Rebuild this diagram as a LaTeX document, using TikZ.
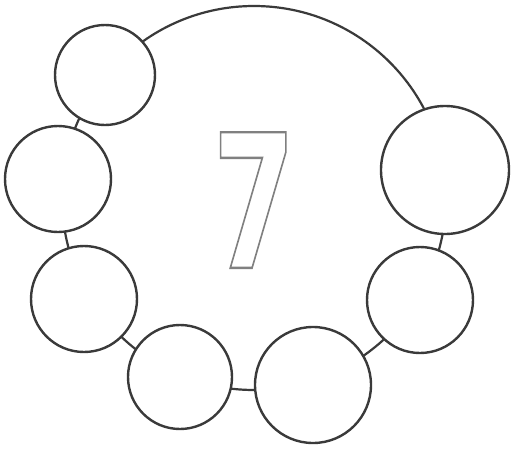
\documentclass[tikz,border=0pt]{standalone}
\usepackage{fontspec}
\newfontfamily\digitfont{DejaVu Sans}[BoldFont={DejaVu Sans Bold}]
\definecolor{inkline}{HTML}{3A3A3A}
\newcommand{\outlinedtext}[1]{\special{pdf:literal direct 1 Tr 2.4 w 0.5 G}#1\special{pdf:literal direct 0 Tr}}
\tikzset{
  bead/.style={circle, draw=inkline, line width=2.4pt, fill=white, inner sep=0pt, outer sep=0pt},
  ringline/.style={circle, draw=inkline, line width=2.2pt, inner sep=0pt, outer sep=0pt, minimum size=384pt},
  digit/.style={inner sep=0pt, font=\digitfont\bfseries\fontsize{186}{186}\selectfont, xscale=0.64}
}
\begin{document}
\begin{tikzpicture}[x=1pt,y=-1pt]
\useasboundingbox (0,0) rectangle (514,450);
\fill[white] (0,0) rectangle (514,450);
\node[ringline] (ring) at (254,198) {};
\node[bead, minimum size=100pt] (b1) at (105,75) {};
\node[bead, minimum size=106pt] (b2) at (58,179) {};
\node[bead, minimum size=106pt] (b3) at (84,299) {};
\node[bead, minimum size=104pt] (b4) at (180,377) {};
\node[bead, minimum size=116pt] (b5) at (313,385) {};
\node[bead, minimum size=106pt] (b6) at (420,300) {};
\node[bead, minimum size=128pt] (b7) at (445,170) {};
\node[digit] (seven) at (254,200) {\outlinedtext{7}};
\end{tikzpicture}
\end{document}
